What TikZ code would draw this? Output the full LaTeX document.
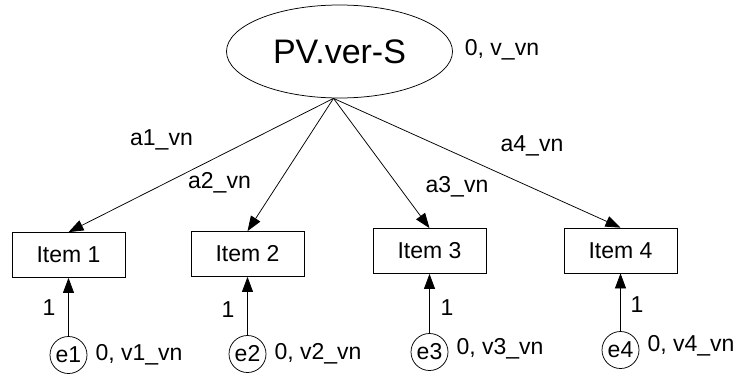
\documentclass[tikz,border=0pt]{standalone}
\usepackage{fontspec}
\setmainfont{Liberation Sans}
\usetikzlibrary{arrows.meta,shapes.geometric}
\begin{document}
\begin{tikzpicture}[x=1pt,y=-1pt,
  every node/.style={font=\fontsize{23}{27}\selectfont, inner sep=0pt},
  latent/.style={draw, ellipse, minimum width=226pt, minimum height=93pt,
    line width=0.75pt, font=\fontsize{34}{40}\selectfont},
  item/.style={draw, rectangle, minimum width=113pt, minimum height=45pt, line width=0.75pt},
  err/.style={draw, circle, minimum size=37pt, line width=0.75pt},
  load/.style={line width=0.75pt, -{Triangle[length=15pt,width=11pt]}},
]
\useasboundingbox (0,0) rectangle (752,383);

% latent factor and its variance
\node[latent] (lv) at (339.5,51.5) {PV.ver-S};
\node (lvvar) at (502,50) {0, v\_vn};
\coordinate (apex) at ([xshift=-6pt]lv.south);

% observed items
\node[item] (i1) at (68.5,255) {Item 1};
\node[item] (i2) at (247.5,254) {Item 2};
\node[item] (i3) at (429.5,251) {Item 3};
\node[item] (i4) at (620.5,250.5) {Item 4};

% error terms
\node[err] (e1) at (68.5,355) {e1};
\node[err] (e2) at (247.5,354) {e2};
\node[err] (e3) at (429.5,352) {e3};
\node[err] (e4) at (620.5,350) {e4};

\node[anchor=west] (v1) at ([xshift=8pt]e1.east) {0, v1\_vn};
\node[anchor=west] (v2) at ([xshift=8pt]e2.east) {0, v2\_vn};
\node[anchor=west] (v3) at ([xshift=8pt,yshift=3pt]e3.east) {0, v3\_vn};
\node[anchor=west] (v4) at ([xshift=8pt,yshift=4pt]e4.east) {0, v4\_vn};

% factor loadings
\draw[load] (apex) -- (i1.north);
\draw[load] (apex) -- (i2.north);
\draw[load] (apex) -- (i3.north);
\draw[load] (apex) -- (i4.north);
\node (a1) at (161.5,140) {a1\_vn};
\node (a2) at (219.5,183) {a2\_vn};
\node (a3) at (457,187) {a3\_vn};
\node (a4) at (532,146) {a4\_vn};

% error paths fixed to 1
\draw[load] (e1) -- (i1);
\draw[load] (e2) -- (i2);
\draw[load] (e3) -- (i3);
\draw[load] (e4) -- (i4);
\node (w1) at (49,308) {1};
\node (w2) at (228,310) {1};
\node (w3) at (447,308) {1};
\node (w4) at (637,305) {1};
\end{tikzpicture}
\end{document}
